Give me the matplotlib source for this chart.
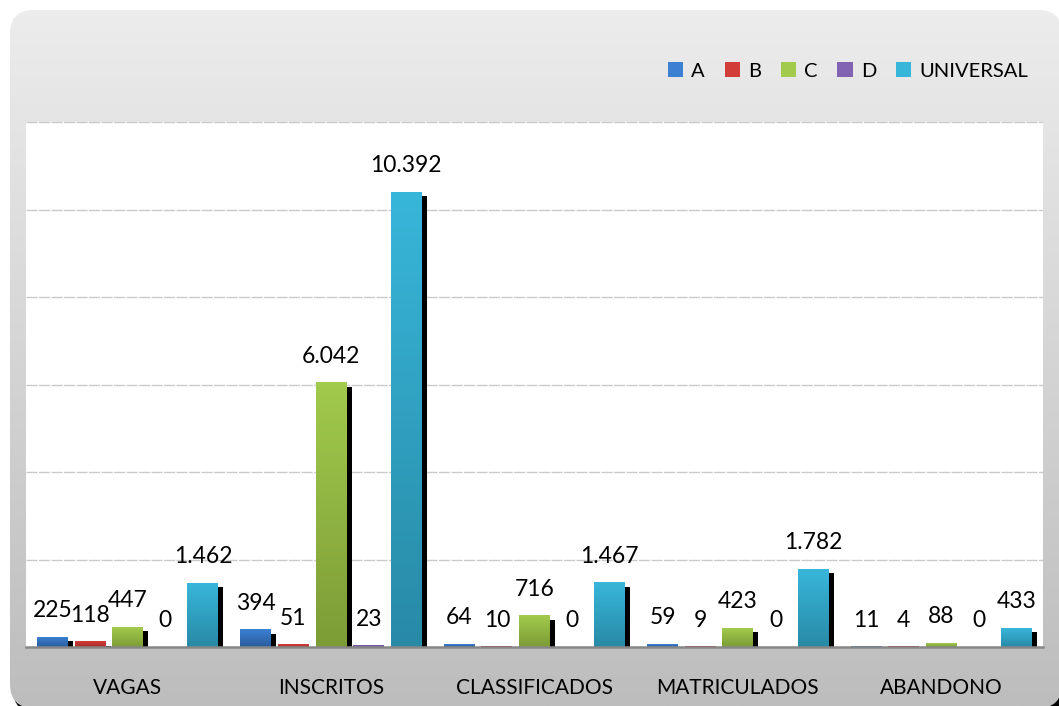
import numpy as np
import matplotlib
matplotlib.use('Agg')
import matplotlib.pyplot as plt
from matplotlib.patches import FancyBboxPatch, Patch
from matplotlib.colors import to_rgb
from matplotlib.transforms import ScaledTranslation

categories = ['VAGAS', 'INSCRITOS', 'CLASSIFICADOS', 'MATRICULADOS', 'ABANDONO']
series = ['A', 'B', 'C', 'D', 'UNIVERSAL']
vals_a = [225, 394, 64, 59, 11]
vals_b = [118, 51, 10, 9, 4]
vals_c = [447, 6042, 716, 423, 88]
vals_d = [0, 23, 0, 0, 0]
vals_u = [1462, 10392, 1467, 1782, 433]
values = [vals_a, vals_b, vals_c, vals_d, vals_u]

# (top, bottom) gradient colours per series
colors = [('#3b80d2', '#2a5c9e'),
          ('#d23d3a', '#a62e2b'),
          ('#a2ca4c', '#7c9c36'),
          ('#8262b2', '#5f4690'),
          ('#38b6da', '#288aa6')]


def fmt(v):
    return f'{v:,}'.replace(',', '.')


def grad(top, bot, n=64):
    t = np.linspace(0, 1, n)[:, None]
    a, b = np.array(to_rgb(bot)), np.array(to_rgb(top))
    return (a + (b - a) * t)[:, None, :]


plt.rcParams['font.family'] = ['Lato', 'DejaVu Sans']

W, H = 1059, 706
fig = plt.figure(figsize=(W / 100, H / 100), dpi=100)
fig.patch.set_facecolor('white')

# background frame
bg = fig.add_axes([0, 0, 1, 1], zorder=0)
bg.set_xlim(0, W)
bg.set_ylim(H, 0)
bg.axis('off')
shadow = FancyBboxPatch((13, 15), 1052, 698, boxstyle='round,pad=0,rounding_size=24',
                        fc='black', ec='none', zorder=1)
bg.add_patch(shadow)
frame = FancyBboxPatch((10, 10), 1052, 698, boxstyle='round,pad=0,rounding_size=24',
                       fc='none', ec='none', zorder=2)
bg.add_patch(frame)
g = grad('#ededed', '#bdbdbd', 256)[::-1]
im = bg.imshow(g, extent=(0, W, H, 0), aspect='auto', origin='upper', zorder=3)
im.set_clip_path(frame)

ax = fig.add_axes([26 / W, 59 / H, 1017 / W, 525 / H], zorder=1)
ax.set_facecolor('white')

xs = np.arange(len(categories))
step, width = 0.185, 0.152
off = ScaledTranslation(5 / 100, -4 / 100, fig.dpi_scale_trans)

for i, (name, vals, (ctop, cbot)) in enumerate(zip(series, values, colors)):
    x = xs + (i - 2) * step
    sh = ax.bar(x, vals, width, color='black', zorder=2)
    for p in sh:
        p.set_transform(ax.transData + off)
    bars = ax.bar(x, vals, width, color='none', zorder=3)
    for p, v in zip(bars, vals):
        if v > 0:
            x0 = p.get_x()
            ax.imshow(grad(ctop, cbot), extent=(x0, x0 + width, 0, v),
                      origin='lower', aspect='auto', zorder=3.5)
        ax.annotate(fmt(v), (p.get_x() + width / 2, v), xytext=(0, 14.4),
                    textcoords='offset points', ha='center', va='baseline',
                    fontsize=16.5, color='black', zorder=5)

ax.set_xlim(-0.5, 4.5)
ax.set_ylim(0, 12000)
ax.set_yticks(np.arange(2000, 12001, 2000))
ax.tick_params(axis='y', length=0, labelleft=False)
ax.yaxis.grid(True, color='#cacaca', ls=(0, (8, 1)), lw=1)
ax.set_axisbelow(True)
ax.set_xticks(xs, categories)
ax.tick_params(axis='x', length=0, pad=22, labelsize=15)
for s in ['left', 'right', 'top']:
    ax.spines[s].set_visible(False)
ax.spines['bottom'].set_color('#878787')
ax.spines['bottom'].set_linewidth(1.8)
ax.spines['bottom'].set_zorder(4)

handles = [Patch(facecolor=c[0], edgecolor='none') for c in colors]
fig.legend(handles, series, loc='center left', bbox_to_anchor=(668 / W, 1 - 71 / H),
           ncol=5, frameon=False, fontsize=14.5, handlelength=0.75, handleheight=0.75,
           handletextpad=0.41, columnspacing=0.98, borderpad=0, borderaxespad=0)

fig.savefig('out.png', dpi=100)
